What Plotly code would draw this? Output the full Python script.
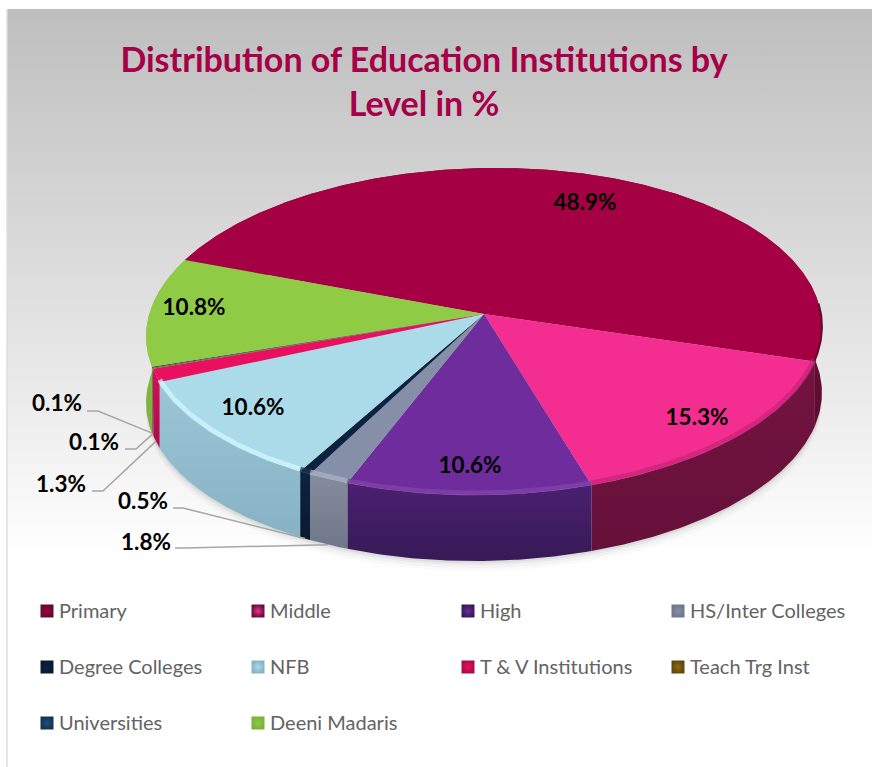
import numpy as np
import plotly.graph_objects as go

# ---- data ----
categories = ["Primary", "Middle", "High", "HS/Inter Colleges", "Degree Colleges",
              "NFB", "T & V Institutions", "Teach Trg Inst", "Universities", "Deeni Madaris"]
values = [48.9, 15.3, 10.6, 1.8, 0.5, 10.6, 1.3, 0.1, 0.1, 10.8]
top_colors = ["#A50043", "#F42E91", "#6F2C9C", "#858FA8", "#0B2240",
              "#ABDAE9", "#EA1060", "#8A6A12", "#1F4E79", "#8FCB45"]
wall_top = ["#7A0F3A", "#741340", "#4A2070", "#848C9E", "#0D2340",
            "#9CC6D8", "#D5105A", "#75590F", "#1A4166", "#8CC63F"]
wall_bottom = ["#5E0C30", "#65103A", "#371A56", "#6F7788", "#0A1A30",
               "#86B2C4", "#A80C48", "#5F480C", "#143352", "#7CB038"]
rim_colors = [None, "#C42478", "#8345AC", "#AEB5C6", "#1B3556",
              "#D4FBFF", None, None, None, None]
label_xy = [(585, 204), (697, 419), (470, 467), (146, 544), (143, 503),
            (253, 409), (61, 486), (94, 444), (57, 405), (194, 309)]
elbows = {3: [(175, 548), (185, 548)], 4: [(173, 508), (183, 508)],
          6: [(92, 491), (103, 491)], 7: [(125, 449), (136, 449)], 8: [(87, 411), (98, 411)]}
legend_cols = [47, 258, 468, 678]
legend_rows = [611, 667, 723]

# ---- projection of the tilted pie ----
CX, CY, A, B, K, SHEAR, DEPTH, START = 484, 314, 336, 161.6, 0.107, 5, 66, -67.8


def project(deg):
    t = np.radians(deg)
    u, v = np.sin(t), np.cos(t)
    w = 1 + K * v
    return CX + A * u / w, CY - B * v / w - SHEAR * u


def arc(a0, a1):
    n = max(2, int(abs(a1 - a0) * 2) + 2)
    return project(np.linspace(a0, a1, n))


cum = np.concatenate([[0], np.cumsum(values)])
angles = START + cum / cum[-1] * 360

fig = go.Figure()


def poly(xs, ys, **kw):
    fig.add_trace(go.Scatter(x=xs, y=ys, mode="lines", fill="toself", line=dict(width=0),
                             hoverinfo="skip", showlegend=False, **kw))


# background panel
poly([7, 872, 872, 7, 7], [9, 9, 767, 767, 9],
     fillgradient=dict(type="vertical", start=9, stop=767,
                       colorscale=[[0, "#BEBEBE"], [0.2, "#D0D0D0"], [0.5, "#EAEAEA"],
                                   [0.72, "#FFFFFF"], [1, "#FFFFFF"]]))

# soft shadow
ex, ey = arc(0, 360)
for grow, alpha in [(10, 0.025), (7, 0.035), (4, 0.05), (2, 0.07)]:
    poly(ex, ey + DEPTH + grow, fillcolor=f"rgba(60,60,60,{alpha})")

# side walls
for i in range(len(values)):
    ax, ay = arc(angles[i], angles[i + 1])
    poly(np.concatenate([ax, ax[::-1], ax[:1]]),
         np.concatenate([ay, ay[::-1] + DEPTH, ay[:1]]),
         name=categories[i] + " side",
         fillgradient=dict(type="vertical", start=float(ay.min()), stop=float(ay.max() + DEPTH),
                           colorscale=[[0, wall_top[i]], [1, wall_bottom[i]]]))

# top faces
for i in range(len(values)):
    ax, ay = arc(angles[i], angles[i + 1])
    poly(np.concatenate([[CX], ax, [CX]]), np.concatenate([[CY], ay, [CY]]),
         fillcolor=top_colors[i], name=categories[i])

# rim highlights
for i, c in enumerate(rim_colors):
    if c:
        ax, ay = arc(angles[i], angles[i + 1])
        fig.add_trace(go.Scatter(x=ax, y=ay - 2, mode="lines", line=dict(color=c, width=5),
                                 opacity=0.7, hoverinfo="skip", showlegend=False))

# dark outer edge on the right of the first slice
rx, ry = arc(88, angles[1])
fig.add_trace(go.Scatter(x=rx, y=ry, mode="lines", line=dict(color="#640A2E", width=2),
                         hoverinfo="skip", showlegend=False))

# leader lines, ending on the lower edge of the slice wall
for i, pts in elbows.items():
    mx, my = project((angles[i] + angles[i + 1]) / 2)
    fig.add_trace(go.Scatter(x=[pts[0][0], pts[1][0], float(mx)],
                             y=[pts[0][1], pts[1][1], float(my) + DEPTH],
                             mode="lines", line=dict(color="#A6A6A6", width=1.5),
                             hoverinfo="skip", showlegend=False))

# value labels
fig.add_trace(go.Scatter(x=[p[0] for p in label_xy], y=[p[1] for p in label_xy],
                         mode="text", text=[f"{v}%" for v in values],
                         textposition="middle center",
                         textfont=dict(family="Lato", size=22.5, color="#000000", weight="bold"),
                         hoverinfo="skip", showlegend=False))

# legend
for i, name in enumerate(categories):
    row, col = divmod(i, 4)
    fig.add_trace(go.Scatter(x=[legend_cols[col]], y=[legend_rows[row]], mode="markers",
                             marker=dict(symbol="square", size=13, color=wall_bottom[i],
                                         gradient=dict(type="radial", color=top_colors[i]),
                                         line=dict(width=0)),
                             name=name, hoverinfo="skip", showlegend=False))
    fig.add_trace(go.Scatter(x=[legend_cols[col] + 12], y=[legend_rows[row] + 1.5], mode="text",
                             text=[name], textposition="middle right",
                             textfont=dict(family="Lato", size=20, color="#636363"),
                             name=name, hoverinfo="skip", showlegend=False))

fig.update_layout(
    width=872, height=767, margin=dict(l=0, r=0, t=0, b=0),
    paper_bgcolor="#FFFFFF", plot_bgcolor="rgba(0,0,0,0)", showlegend=False,
    title=dict(text="Distribution of Education Institutions by<br>Level in %",
               x=424 / 872, xanchor="center", y=1 - 72 / 767, yanchor="middle",
               font=dict(family="Lato", size=34, color="#A50048", weight="bold")),
    xaxis=dict(range=[0, 872], visible=False, fixedrange=True),
    yaxis=dict(range=[767, 0], visible=False, fixedrange=True),
    shapes=[dict(type="line", x0=7, x1=7, y0=9, y1=767, line=dict(color="#DEDEDE", width=1.5))],
)
fig.write_html("out.html", config={"displayModeBar": False},
               post_script="document.body.style.margin='0';")
